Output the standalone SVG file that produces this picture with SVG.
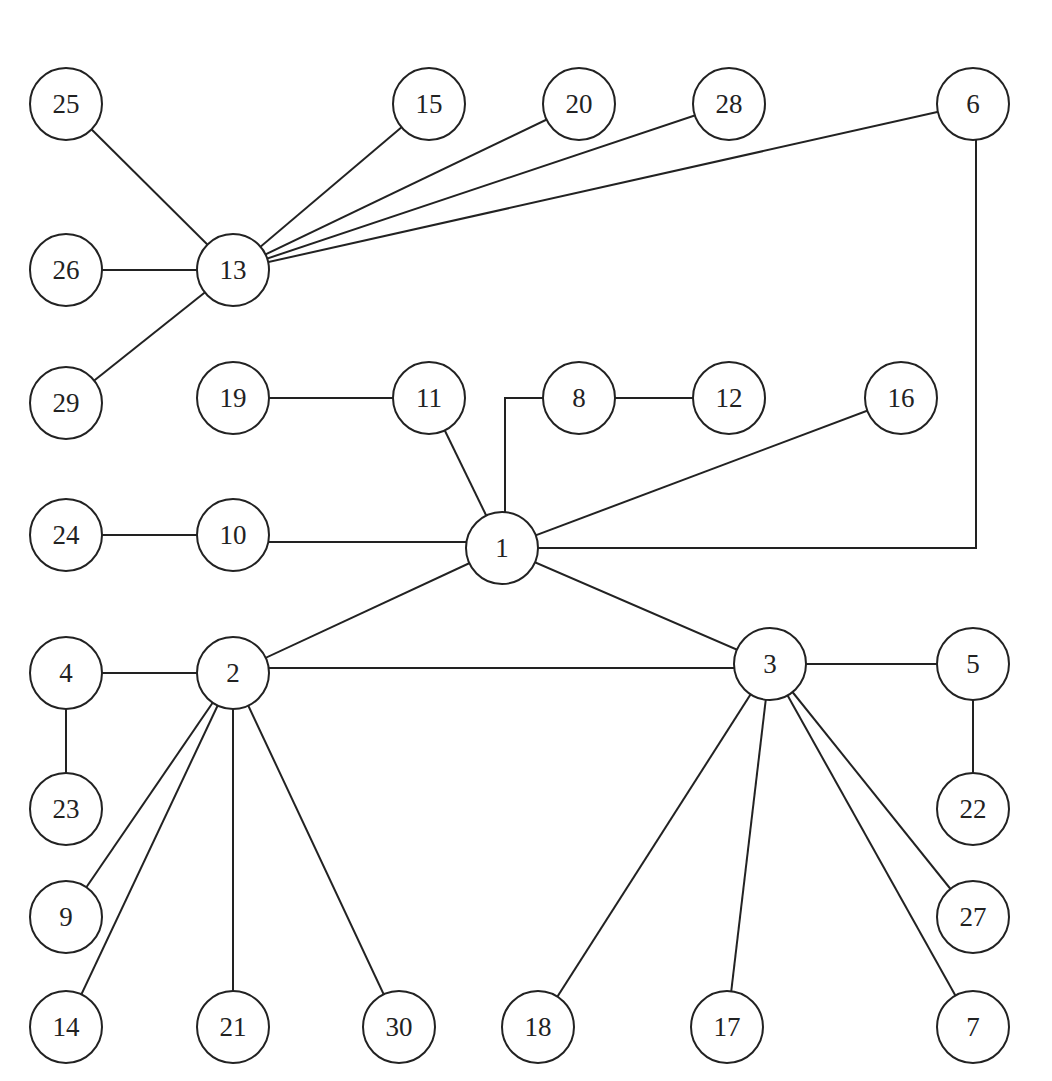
<svg xmlns="http://www.w3.org/2000/svg" width="1052" height="1081" viewBox="0 0 1052 1081">
<style>
.n circle{fill:#fff;stroke:#222;stroke-width:2}
.n text{font-family:"Liberation Serif","DejaVu Serif",serif;font-size:27px;fill:#222;text-anchor:middle;dominant-baseline:central}
#edges line,#edges polyline{stroke:#222;stroke-width:2;fill:none}
</style>
<rect width="1052" height="1081" fill="#fff"/>
<g id="edges">
<line x1="66" y1="104" x2="233" y2="270"/>
<line x1="66" y1="270" x2="233" y2="270"/>
<line x1="66" y1="403" x2="233" y2="270"/>
<line x1="429" y1="104" x2="233" y2="270"/>
<line x1="579" y1="104" x2="233" y2="270"/>
<line x1="729" y1="104" x2="233" y2="270"/>
<line x1="973" y1="104" x2="233" y2="270"/>
<polyline points="976,130 976,548 502,548"/>
<polyline points="579,398 505,398 505,548"/>
<line x1="429" y1="398" x2="502" y2="548"/>
<line x1="233" y1="398" x2="429" y2="398"/>
<line x1="579" y1="398" x2="729" y2="398"/>
<line x1="901" y1="398" x2="502" y2="548"/>
<line x1="66" y1="535" x2="233" y2="535"/>
<line x1="233" y1="542" x2="502" y2="542"/>
<line x1="502" y1="548" x2="233" y2="673"/>
<line x1="502" y1="548" x2="770" y2="664"/>
<line x1="66" y1="673" x2="233" y2="673"/>
<line x1="233" y1="668" x2="770" y2="668"/>
<line x1="770" y1="664" x2="973" y2="664"/>
<line x1="973" y1="664" x2="973" y2="809"/>
<line x1="66" y1="673" x2="66" y2="809"/>
<line x1="233" y1="673" x2="66" y2="917"/>
<line x1="233" y1="673" x2="66" y2="1027"/>
<line x1="233" y1="673" x2="233" y2="1027"/>
<line x1="233" y1="673" x2="399" y2="1027"/>
<line x1="770" y1="664" x2="538" y2="1027"/>
<line x1="770" y1="664" x2="727" y2="1027"/>
<line x1="770" y1="664" x2="973" y2="917"/>
<line x1="770" y1="664" x2="973" y2="1027"/>
</g>
<g id="n25" class="n"><circle cx="66" cy="104" r="36"/><text x="66" y="104">25</text></g>
<g id="n15" class="n"><circle cx="429" cy="104" r="36"/><text x="429" y="104">15</text></g>
<g id="n20" class="n"><circle cx="579" cy="104" r="36"/><text x="579" y="104">20</text></g>
<g id="n28" class="n"><circle cx="729" cy="104" r="36"/><text x="729" y="104">28</text></g>
<g id="n6" class="n"><circle cx="973" cy="104" r="36"/><text x="973" y="104">6</text></g>
<g id="n13" class="n"><circle cx="233" cy="270" r="36"/><text x="233" y="270">13</text></g>
<g id="n26" class="n"><circle cx="66" cy="270" r="36"/><text x="66" y="270">26</text></g>
<g id="n29" class="n"><circle cx="66" cy="403" r="36"/><text x="66" y="403">29</text></g>
<g id="n19" class="n"><circle cx="233" cy="398" r="36"/><text x="233" y="398">19</text></g>
<g id="n11" class="n"><circle cx="429" cy="398" r="36"/><text x="429" y="398">11</text></g>
<g id="n8" class="n"><circle cx="579" cy="398" r="36"/><text x="579" y="398">8</text></g>
<g id="n12" class="n"><circle cx="729" cy="398" r="36"/><text x="729" y="398">12</text></g>
<g id="n16" class="n"><circle cx="901" cy="398" r="36"/><text x="901" y="398">16</text></g>
<g id="n24" class="n"><circle cx="66" cy="535" r="36"/><text x="66" y="535">24</text></g>
<g id="n10" class="n"><circle cx="233" cy="535" r="36"/><text x="233" y="535">10</text></g>
<g id="n1" class="n"><circle cx="502" cy="548" r="36"/><text x="502" y="548">1</text></g>
<g id="n4" class="n"><circle cx="66" cy="673" r="36"/><text x="66" y="673">4</text></g>
<g id="n2" class="n"><circle cx="233" cy="673" r="36"/><text x="233" y="673">2</text></g>
<g id="n3" class="n"><circle cx="770" cy="664" r="36"/><text x="770" y="664">3</text></g>
<g id="n5" class="n"><circle cx="973" cy="664" r="36"/><text x="973" y="664">5</text></g>
<g id="n22" class="n"><circle cx="973" cy="809" r="36"/><text x="973" y="809">22</text></g>
<g id="n23" class="n"><circle cx="66" cy="809" r="36"/><text x="66" y="809">23</text></g>
<g id="n9" class="n"><circle cx="66" cy="917" r="36"/><text x="66" y="917">9</text></g>
<g id="n27" class="n"><circle cx="973" cy="917" r="36"/><text x="973" y="917">27</text></g>
<g id="n14" class="n"><circle cx="66" cy="1027" r="36"/><text x="66" y="1027">14</text></g>
<g id="n21" class="n"><circle cx="233" cy="1027" r="36"/><text x="233" y="1027">21</text></g>
<g id="n30" class="n"><circle cx="399" cy="1027" r="36"/><text x="399" y="1027">30</text></g>
<g id="n18" class="n"><circle cx="538" cy="1027" r="36"/><text x="538" y="1027">18</text></g>
<g id="n17" class="n"><circle cx="727" cy="1027" r="36"/><text x="727" y="1027">17</text></g>
<g id="n7" class="n"><circle cx="973" cy="1027" r="36"/><text x="973" y="1027">7</text></g>
</svg>
